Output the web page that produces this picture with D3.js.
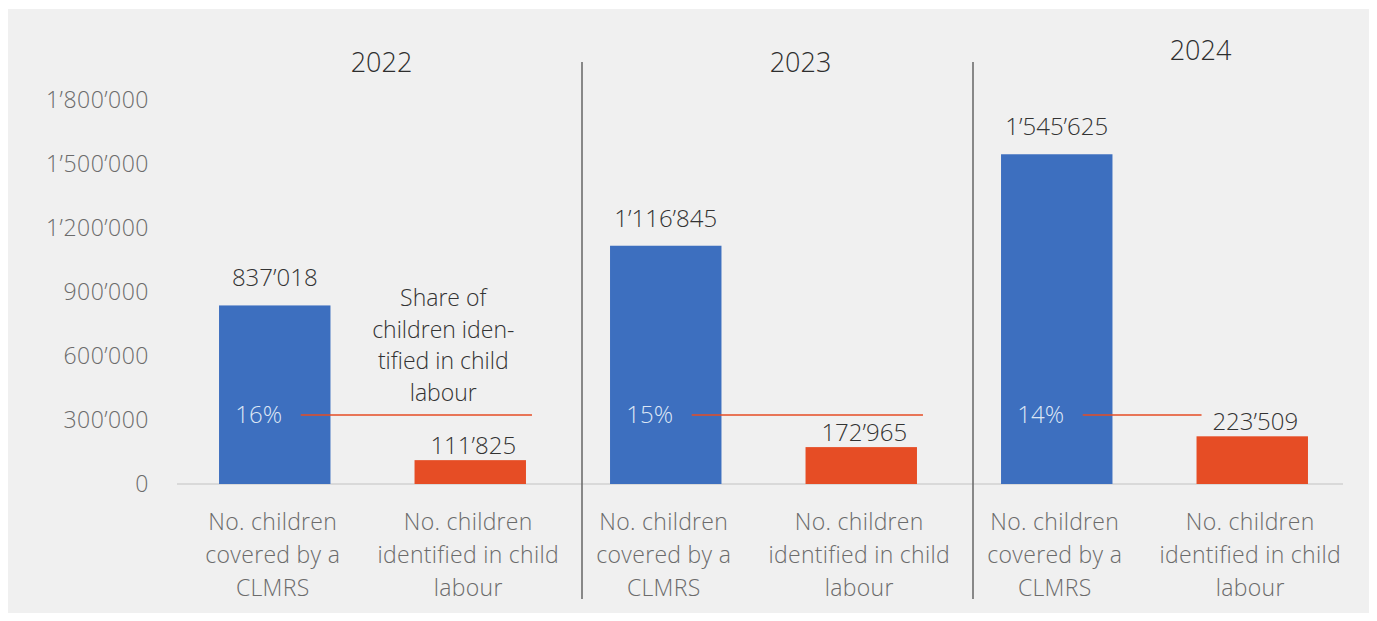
<!DOCTYPE html>
<html>
<head>
<meta charset="utf-8">
<script src="https://cdn.jsdelivr.net/npm/d3@7"></script>
<style>
    body { margin: 0; background: #ffffff; }
    svg { display: block; font-family: "Open Sans", "Noto Sans", sans-serif; font-weight: 300; }
    .tick text { fill: #6b6b6b; font-size: 23px; letter-spacing: 0.5px; }
</style>
</head>
<body>
<script>
// chart data
var years = ["2022", "2023", "2024"];
var covered = [837018, 1116845, 1545625];
var identified = [111825, 172965, 223509];
var shares = ["16%", "15%", "14%"];
var yTicks = [0, 300000, 600000, 900000, 1200000, 1500000, 1800000];
var catLabels = [
    ["No. children", "covered by a", "CLMRS"],
    ["No. children", "identified in child", "labour"]
];
var shareNote = ["Share of", "children iden-", "tified in child", "labour"];

var width = 1377, height = 621;
var blue = "#3d6fbf", red = "#e64d25";

var svg = d3.select("body").append("svg")
    .attr("width", width)
    .attr("height", height);

svg.append("rect")
    .attr("x", 8).attr("y", 9)
    .attr("width", 1361).attr("height", 604)
    .attr("fill", "#f0f0f0");

// one band per bar, two bars per year
var bars = [];
years.forEach(function (yr, i) {
    bars.push({ key: yr + "-c", year: yr, idx: i, type: 0, value: covered[i] });
    bars.push({ key: yr + "-i", year: yr, idx: i, type: 1, value: identified[i] });
});

var x = d3.scaleBand()
    .domain(bars.map(function (d) { return d.key; }))
    .range([177, 1350])
    .paddingInner(0.43)
    .paddingOuter(0.215);

var y = d3.scaleLinear()
    .domain([0, 1800000])
    .range([484, 100]);

var fmt = function (v) {
    return d3.format(",")(v).replace(/,/g, "\u2019");
};

// y axis
var yAxis = d3.axisLeft(y)
    .tickValues(yTicks)
    .tickSize(0)
    .tickPadding(0)
    .tickFormat(function (d) { return d === 0 ? "0" : fmt(d); });

svg.append("g")
    .attr("transform", "translate(149,0)")
    .call(yAxis)
    .attr("font-family", null)
    .attr("font-size", null)
    .call(function (g) { g.select(".domain").remove(); });

// baseline
svg.append("line")
    .attr("x1", 177).attr("x2", 1343)
    .attr("y1", y(0)).attr("y2", y(0))
    .attr("stroke", "#d2d2d2")
    .attr("stroke-width", 1.5);

// separators between years
[1, 2].forEach(function (i) {
    var xs = (x(years[i - 1] + "-i") + x.bandwidth() + x(years[i] + "-c")) / 2 + 14;
    svg.append("line")
        .attr("x1", xs).attr("x2", xs)
        .attr("y1", 62).attr("y2", 599)
        .attr("stroke", "#666")
        .attr("stroke-width", 1.5);
});

// year titles (not centred on their groups in the original)
var titleY = [72, 72, 60];
var titleShift = [9, 37, 46];
svg.selectAll(".year")
    .data(years)
    .enter().append("text")
    .attr("class", "year")
    .attr("x", function (d, i) {
        return (x(d + "-c") + x(d + "-i") + x.bandwidth()) / 2 + titleShift[i];
    })
    .attr("y", function (d, i) { return titleY[i]; })
    .attr("text-anchor", "middle")
    .attr("font-size", 27)
    .attr("fill", "#2e2e2e")
    .text(function (d) { return d; });

// bars
svg.selectAll(".bar")
    .data(bars)
    .enter().append("rect")
    .attr("class", "bar")
    .attr("x", function (d) { return x(d.key); })
    .attr("y", function (d) { return y(d.value); })
    .attr("width", x.bandwidth())
    .attr("height", function (d) { return y(0) - y(d.value); })
    .attr("fill", function (d) { return d.type === 0 ? blue : red; });

// value labels
svg.selectAll(".val")
    .data(bars)
    .enter().append("text")
    .attr("class", "val")
    .attr("x", function (d) { return x(d.key) + x.bandwidth() / 2 + (d.type === 1 ? 3 : 0); })
    .attr("y", function (d) { return y(d.value) - (d.type === 0 ? 19 : 6); })
    .attr("text-anchor", "middle")
    .attr("font-size", 24)
    .attr("fill", "#333")
    .text(function (d) { return fmt(d.value); });

// share annotation: percent + connector line
var lineY = 415;
years.forEach(function (yr, i) {
    var cx = x(yr + "-c") + x.bandwidth() / 2 - 16;
    svg.append("text")
        .attr("x", cx)
        .attr("y", lineY + 8)
        .attr("text-anchor", "middle")
        .attr("font-size", 24)
        .attr("fill", "#dce6f5")
        .text(shares[i]);
    var x2 = i === 2 ? x(yr + "-i") + 5 : x(yr + "-i") + x.bandwidth() + 6;
    svg.append("line")
        .attr("x1", cx + 42).attr("x2", x2)
        .attr("y1", lineY).attr("y2", lineY)
        .attr("stroke", red)
        .attr("stroke-width", 1.5);
});

// note on share
var noteX = x("2022-i") + x.bandwidth() / 2 - 27;
svg.append("text")
    .attr("text-anchor", "middle")
    .attr("font-size", 23)
    .attr("fill", "#333")
    .selectAll("tspan")
    .data(shareNote)
    .enter().append("tspan")
    .attr("x", noteX)
    .attr("y", function (d, i) { return 306 + i * 31.5; })
    .text(function (d) { return d; });

// category labels under bars
bars.forEach(function (d) {
    svg.append("text")
        .attr("text-anchor", "middle")
        .attr("font-size", 23)
        .attr("letter-spacing", 0.3)
        .attr("fill", "#6b6b6b")
        .selectAll("tspan")
        .data(catLabels[d.type])
        .enter().append("tspan")
        .attr("x", x(d.key) + x.bandwidth() / 2 - 2)
        .attr("y", function (t, i) { return 530 + i * 33; })
        .text(function (t) { return t; });
});
</script>
</body>
</html>
